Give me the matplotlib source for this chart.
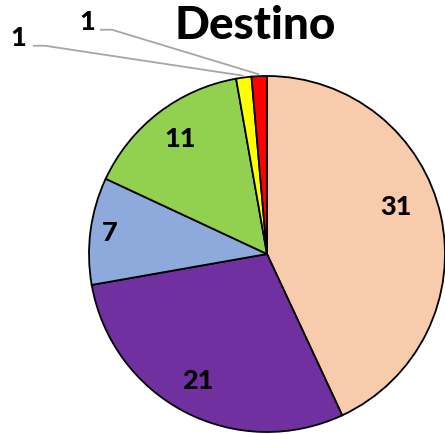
import numpy as np
import matplotlib
matplotlib.use("Agg")
import matplotlib.pyplot as plt

# Data
categories = ["A", "B", "C", "D", "E", "F"]
values = [31, 21, 7, 11, 1, 1]
colors = ["#F8CBAD", "#7030A0", "#8EA9DB", "#92D050", "#FFFF00", "#FF0000"]
title = "Destino"

W, H, DPI = 445, 434, 100
fig = plt.figure(figsize=(W / DPI, H / DPI), dpi=DPI)

# pie placed with centre (267, 254) px and radius 178 px
cx, cy, R = 267, 254, 178
ax = fig.add_axes([(cx - R) / W, (H - cy - R) / H, 2 * R / W, 2 * R / H])
wedges, _ = ax.pie(values, colors=colors, startangle=90, counterclock=False,
                   radius=1.0,
                   wedgeprops=dict(edgecolor="black", linewidth=1.3))
ax.set_xlim(-1, 1)
ax.set_ylim(-1, 1)
ax.set_aspect("equal")
ax.axis("off")

font = "Lato"
LFS = 19.5
# inside labels: radial factor and angular shift (deg) per slice
inside = {0: (0.77, 7.5), 1: (0.81, -1.0), 2: (0.89, 0.0), 3: (0.81, -0.5)}
for i, w in enumerate(wedges):
    mid = np.deg2rad((w.theta1 + w.theta2) / 2)
    if i in inside:
        rf, dth = inside[i]
        a = mid + np.deg2rad(dth)
        ax.text(rf * np.cos(a), rf * np.sin(a), str(values[i]),
                ha="center", va="center", fontsize=LFS, fontweight="black",
                family=font, color="black")

# small slices: labels outside with leader lines
outside = {4: (-1.40, 1.215, -1.315, -1.247), 5: (-1.01, 1.305, -0.938, -0.871)}
for i, (lx, ly, hx0, hx1) in outside.items():
    w = wedges[i]
    mid = np.deg2rad((w.theta1 + w.theta2) / 2)
    ex, ey = 1.01 * np.cos(mid), 1.01 * np.sin(mid)
    hy = ly - 0.045
    ax.plot([hx0, hx1, ex], [hy, hy, ey], color="#A6A6A6", lw=1.3,
            clip_on=False, solid_capstyle="butt")
    ax.text(lx, ly, str(values[i]), ha="center", va="center", fontsize=LFS,
            fontweight="black", family=font, color="black")

fig.text(255 / W, 1 - 26 / H, title, ha="center", va="center", fontsize=33,
         fontweight="black", family=font)

fig.savefig("out.png", dpi=DPI)
